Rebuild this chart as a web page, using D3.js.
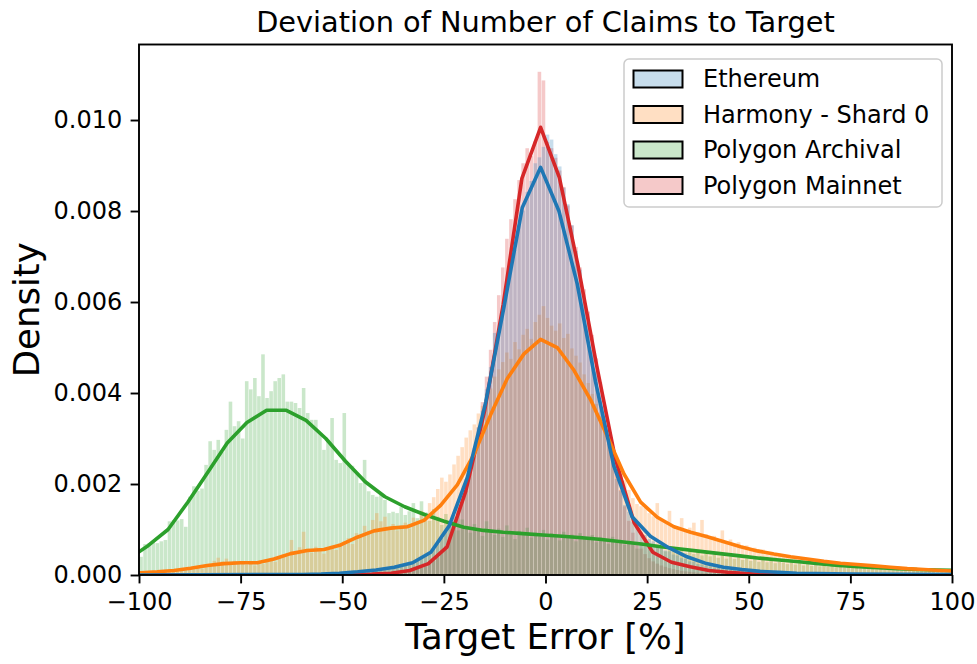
<!DOCTYPE html>
<html>
<head>
<meta charset="utf-8">
<script src="https://cdn.jsdelivr.net/npm/d3@7"></script>
<style>
  body { margin: 0; background: #fff; }
  svg { font-family: "DejaVu Sans", sans-serif; }
</style>
</head>
<body>
<div id="app"></div>
<script>
// 分箱：从 -100 开始，每箱宽 1（单位 %）
const binStart = -100;
const binWidth = 1;

const seriesNames = ['Ethereum', 'Harmony - Shard 0', 'Polygon Archival', 'Polygon Mainnet'];
const seriesColors = ['#1f77b4', '#ff7f0e', '#2ca02c', '#d62728'];

// 直方图密度，每行 10 个箱，行首注释为该行第一个箱的左边界
const ethereumBins = [
  0, 0, 0, 0, 0, 0, 0, 0, 0, 0, // -100
  0, 0, 0, 0, 0, 0, 0, 0, 0, 0, // -90
  0, 0, 0, 0, 0, 0, 0, 0, 0, 0, // -80
  0, 0, 0, 0, 0, 0, 0, 0, 0, 0.00001, // -70
  0.00001, 0.00001, 0.00002, 0.00001, 0.00002, 0.00002, 0.00003, 0.00002, 0.00003, 0.00004, // -60
  0.00004, 0.00005, 0.00006, 0.00005, 0.00008, 0.00007, 0.00009, 0.00011, 0.00010, 0.00013, // -50
  0.00015, 0.00014, 0.00018, 0.00021, 0.00019, 0.00024, 0.00028, 0.00026, 0.00033, 0.00038, // -40
  0.00044, 0.00051, 0.00057, 0.00068, 0.00081, 0.00095, 0.00112, 0.00128, 0.00154, 0.00179, // -30
  0.00211, 0.00245, 0.00279, 0.00324, 0.00361, 0.00408, 0.00457, 0.00532, 0.00541, 0.00588, // -20
  0.00629, 0.00674, 0.00715, 0.00769, 0.00801, 0.00842, 0.00866, 0.00905, 0.00918, 0.00941, // -10
  0.00968, 0.00957, 0.00925, 0.00898, 0.00851, 0.00815, 0.00769, 0.00712, 0.00671, 0.00608, // 0
  0.00559, 0.00494, 0.00447, 0.00382, 0.00341, 0.00289, 0.00254, 0.00211, 0.00185, 0.00154, // 10
  0.00139, 0.00117, 0.00106, 0.00094, 0.00088, 0.00079, 0.00074, 0.00065, 0.00062, 0.00054, // 20
  0.00052, 0.00045, 0.00043, 0.00037, 0.00035, 0.00030, 0.00029, 0.00024, 0.00023, 0.00020, // 30
  0.00019, 0.00016, 0.00016, 0.00013, 0.00013, 0.00011, 0.00010, 0.00009, 0.00009, 0.00008, // 40
  0.00007, 0.00006, 0.00006, 0.00005, 0.00005, 0.00004, 0.00004, 0.00004, 0.00003, 0.00003, // 50
  0.00003, 0.00002, 0.00003, 0.00002, 0.00002, 0.00002, 0.00001, 0.00002, 0.00001, 0.00001, // 60
  0.00001, 0.00001, 0.00001, 0.00001, 0, 0.00001, 0, 0.00001, 0, 0, // 70
  0, 0, 0, 0, 0, 0, 0, 0, 0, 0, // 80
  0, 0, 0, 0, 0, 0, 0, 0, 0, 0 // 90
];

const harmonyBins = [
  0.00004, 0.00003, 0.00005, 0.00004, 0.00006, 0.00005, 0.00007, 0.00006, 0.00009, 0.00008, // -100
  0.00011, 0.00010, 0.00013, 0.00012, 0.00016, 0.00014, 0.00019, 0.00024, 0.00031, 0.00038, // -90
  0.00030, 0.00036, 0.00027, 0.00031, 0.00025, 0.00029, 0.00022, 0.00026, 0.00021, 0.00028, // -80
  0.00024, 0.00030, 0.00033, 0.00029, 0.00038, 0.00045, 0.00041, 0.00077, 0.00052, 0.00061, // -70
  0.00095, 0.00058, 0.00049, 0.00062, 0.00053, 0.00047, 0.00058, 0.00064, 0.00055, 0.00069, // -60
  0.00074, 0.00081, 0.00068, 0.00092, 0.00085, 0.00108, 0.00097, 0.00121, 0.00136, 0.00118, // -50
  0.00128, 0.00105, 0.00112, 0.00098, 0.00109, 0.00115, 0.00102, 0.00126, 0.00119, 0.00141, // -40
  0.00132, 0.00158, 0.00171, 0.00189, 0.00214, 0.00205, 0.00221, 0.00243, 0.00262, 0.00281, // -30
  0.00302, 0.00318, 0.00331, 0.00355, 0.00372, 0.00398, 0.00410, 0.00436, 0.00452, 0.00468, // -20
  0.00489, 0.00475, 0.00512, 0.00496, 0.00528, 0.00541, 0.00519, 0.00556, 0.00572, 0.00591, // -10
  0.00565, 0.00548, 0.00537, 0.00553, 0.00521, 0.00530, 0.00498, 0.00482, 0.00467, 0.00441, // 0
  0.00422, 0.00398, 0.00376, 0.00349, 0.00327, 0.00301, 0.00278, 0.00252, 0.00231, 0.00208, // 10
  0.00187, 0.00169, 0.00156, 0.00151, 0.00148, 0.00136, 0.00129, 0.00158, 0.00121, 0.00117, // 20
  0.00141, 0.00108, 0.00102, 0.00125, 0.00096, 0.00104, 0.00115, 0.00094, 0.00121, 0.00090, // 30
  0.00082, 0.00086, 0.00075, 0.00098, 0.00071, 0.00078, 0.00066, 0.00072, 0.00061, 0.00065, // 40
  0.00057, 0.00060, 0.00052, 0.00056, 0.00048, 0.00051, 0.00045, 0.00047, 0.00041, 0.00043, // 50
  0.00038, 0.00040, 0.00035, 0.00037, 0.00033, 0.00034, 0.00030, 0.00032, 0.00028, 0.00029, // 60
  0.00026, 0.00027, 0.00024, 0.00025, 0.00022, 0.00023, 0.00021, 0.00020, 0.00019, 0.00018, // 70
  0.00017, 0.00016, 0.00015, 0.00014, 0.00013, 0.00013, 0.00012, 0.00011, 0.00011, 0.00010, // 80
  0.00009, 0.00009, 0.00008, 0.00008, 0.00007, 0.00007, 0.00006, 0.00006, 0.00005, 0.00005 // 90
];

const archivalBins = [
  0.00040, 0.00068, 0.00070, 0.00072, 0.00070, 0.00074, 0.00077, 0.00118, 0.00121, 0.00120, // -100
  0.00123, 0.00106, 0.00172, 0.00195, 0.00185, 0.00190, 0.00242, 0.00294, 0.00275, 0.00297, // -90
  0.00270, 0.00319, 0.00381, 0.00327, 0.00338, 0.00300, 0.00426, 0.00408, 0.00433, 0.00393, // -80
  0.00485, 0.00389, 0.00404, 0.00426, 0.00433, 0.00441, 0.00381, 0.00381, 0.00378, 0.00367, // -70
  0.00411, 0.00356, 0.00341, 0.00341, 0.00312, 0.00275, 0.00297, 0.00345, 0.00253, 0.00246, // -60
  0.00356, 0.00246, 0.00240, 0.00224, 0.00202, 0.00253, 0.00184, 0.00176, 0.00172, 0.00176, // -50
  0.00165, 0.00136, 0.00139, 0.00136, 0.00150, 0.00132, 0.00140, 0.00158, 0.00125, 0.00162, // -40
  0.00138, 0.00119, 0.00145, 0.00128, 0.00110, 0.00134, 0.00112, 0.00118, 0.00098, 0.00122, // -30
  0.00105, 0.00093, 0.00112, 0.00099, 0.00086, 0.00118, 0.00095, 0.00088, 0.00102, 0.00084, // -20
  0.00109, 0.00091, 0.00079, 0.00097, 0.00088, 0.00104, 0.00082, 0.00093, 0.00085, 0.00099, // -10
  0.00078, 0.00092, 0.00087, 0.00076, 0.00095, 0.00083, 0.00089, 0.00074, 0.00092, 0.00081, // 0
  0.00077, 0.00088, 0.00072, 0.00083, 0.00079, 0.00068, 0.00084, 0.00071, 0.00077, 0.00066, // 10
  0.00074, 0.00069, 0.00058, 0.00072, 0.00063, 0.00067, 0.00055, 0.00064, 0.00059, 0.00052, // 20
  0.00061, 0.00054, 0.00049, 0.00057, 0.00048, 0.00053, 0.00046, 0.00051, 0.00043, 0.00047, // 30
  0.00041, 0.00045, 0.00038, 0.00043, 0.00036, 0.00041, 0.00035, 0.00039, 0.00033, 0.00036, // 40
  0.00031, 0.00035, 0.00029, 0.00033, 0.00028, 0.00031, 0.00026, 0.00029, 0.00027, 0.00024, // 50
  0.00028, 0.00023, 0.00026, 0.00021, 0.00024, 0.00020, 0.00023, 0.00019, 0.00021, 0.00018, // 60
  0.00020, 0.00017, 0.00019, 0.00016, 0.00018, 0.00015, 0.00017, 0.00014, 0.00016, 0.00013, // 70
  0.00015, 0.00012, 0.00014, 0.00011, 0.00013, 0.00011, 0.00012, 0.00010, 0.00011, 0.00009, // 80
  0.00010, 0.00009, 0.00010, 0.00008, 0.00009, 0.00008, 0.00009, 0.00007, 0.00008, 0.00007 // 90
];

const mainnetBins = [
  0, 0, 0, 0, 0, 0, 0, 0, 0, 0, // -100
  0, 0, 0, 0, 0, 0, 0, 0, 0, 0, // -90
  0, 0, 0, 0, 0, 0, 0, 0, 0, 0, // -80
  0, 0, 0, 0, 0, 0, 0, 0, 0, 0, // -70
  0, 0, 0, 0, 0, 0, 0, 0, 0, 0, // -60
  0, 0, 0, 0, 0, 0.00001, 0.00001, 0.00002, 0.00002, 0.00002, // -50
  0.00003, 0.00003, 0.00004, 0.00005, 0.00006, 0.00007, 0.00009, 0.00011, 0.00013, 0.00016, // -40
  0.00019, 0.00024, 0.00031, 0.00039, 0.00050, 0.00064, 0.00083, 0.00108, 0.00139, 0.00165, // -30
  0.00185, 0.00225, 0.00272, 0.00325, 0.00380, 0.00436, 0.00495, 0.00556, 0.00615, 0.00676, // -20
  0.00739, 0.00782, 0.00826, 0.00868, 0.00905, 0.00938, 0.00921, 0.00954, 0.01106, 0.01087, // -10
  0.00952, 0.00938, 0.00917, 0.00889, 0.00853, 0.00812, 0.00768, 0.00721, 0.00676, 0.00628, // 0
  0.00579, 0.00528, 0.00476, 0.00424, 0.00371, 0.00322, 0.00275, 0.00229, 0.00187, 0.00151, // 10
  0.00119, 0.00093, 0.00073, 0.00058, 0.00046, 0.00037, 0.00030, 0.00025, 0.00021, 0.00018, // 20
  0.00015, 0.00013, 0.00011, 0.00009, 0.00008, 0.00007, 0.00006, 0.00005, 0.00004, 0.00004, // 30
  0.00003, 0.00003, 0.00002, 0.00002, 0.00002, 0.00001, 0.00001, 0.00001, 0.00001, 0.00001, // 40
  0, 0, 0, 0, 0, 0, 0, 0, 0, 0, // 50
  0, 0, 0, 0, 0, 0, 0, 0, 0, 0, // 60
  0, 0, 0, 0, 0, 0, 0, 0, 0, 0, // 70
  0, 0, 0, 0, 0, 0, 0, 0, 0, 0, // 80
  0, 0, 0, 0, 0, 0, 0, 0, 0, 0 // 90
];

// KDE 曲线（粗网格上的取值点）
const ethereumKdeX = [-104.7, -59.7, -55.2, -50.7, -46.2, -41.7, -37.2, -32.7, -28.2, -23.7, -19.2, -14.7, -10.2, -5.7, -1.2, 3.3, 7.8, 12.3, 16.8, 21.3, 25.8, 30.3, 34.8, 39.3, 43.8, 48.3, 52.8, 57.3, 61.8, 66.3, 75.3, 104.6];
const ethereumKdeY = [0, 0.00001, 0.00002, 0.00004, 0.00007, 0.00011, 0.00017, 0.00027, 0.00050, 0.00108, 0.00215, 0.00380, 0.00590, 0.00808, 0.00896, 0.00800, 0.00640, 0.00425, 0.00240, 0.00128, 0.00085, 0.00060, 0.00040, 0.00026, 0.00017, 0.00012, 0.00008, 0.00006, 0.00004, 0.00003, 0.00002, 0.00001];

const harmonyKdeX = [-103.7, -99.6, -95.5, -91.4, -87.3, -83.2, -79.1, -75.0, -70.9, -66.8, -62.7, -58.6, -54.5, -50.4, -46.3, -42.2, -38.1, -34.0, -29.9, -25.8, -21.7, -17.6, -13.5, -9.4, -5.3, -1.2, 2.9, 7.0, 11.1, 15.2, 19.3, 23.4, 27.5, 31.6, 35.7, 39.8, 43.9, 48.0, 52.1, 56.2, 60.3, 64.4, 68.5, 72.6, 76.7, 80.8, 84.9, 89.0, 93.1, 97.2, 101.3];
const harmonyKdeY = [0.00003, 0.00005, 0.00007, 0.00010, 0.00015, 0.00021, 0.00025, 0.00027, 0.00027, 0.00035, 0.00047, 0.00054, 0.00056, 0.00066, 0.00083, 0.00097, 0.00103, 0.00106, 0.00120, 0.00153, 0.00198, 0.00265, 0.00352, 0.00432, 0.00486, 0.00518, 0.00500, 0.00450, 0.00385, 0.00305, 0.00222, 0.00160, 0.00127, 0.00106, 0.00094, 0.00084, 0.00073, 0.00062, 0.00053, 0.00046, 0.00040, 0.00035, 0.00030, 0.00026, 0.00023, 0.00020, 0.00017, 0.00014, 0.00012, 0.00010, 0.00008];

const archivalKdeX = [-102.55, -97.7, -92.85, -88.0, -83.15, -78.3, -73.45, -68.6, -63.75, -58.9, -54.05, -49.2, -44.35, -39.5, -34.65, -29.8, -24.95, -20.1, -15.25, -10.4, -5.55, -0.7, 4.15, 9.0, 13.85, 18.7, 23.55, 28.4, 33.25, 38.1, 42.95, 47.8, 52.65, 57.5, 62.35, 67.2, 72.05, 76.9, 81.75, 86.6, 91.45, 96.3, 101.15];
const archivalKdeY = [0.00035, 0.00065, 0.00100, 0.00160, 0.00225, 0.00290, 0.00335, 0.00362, 0.00362, 0.00340, 0.00300, 0.00250, 0.00205, 0.00172, 0.00150, 0.00133, 0.00118, 0.00105, 0.00098, 0.00094, 0.00091, 0.00088, 0.00085, 0.00082, 0.00078, 0.00073, 0.00068, 0.00062, 0.00057, 0.00052, 0.00047, 0.00042, 0.00037, 0.00033, 0.00029, 0.00025, 0.00021, 0.00018, 0.00016, 0.00014, 0.00012, 0.00011, 0.00010];

const mainnetKdeX = [-104.6, -47.2, -42.6, -38.0, -33.4, -28.8, -24.2, -19.6, -15.0, -10.4, -5.8, -1.2, 3.4, 8.0, 12.6, 17.2, 21.8, 26.4, 31.0, 35.6, 40.2, 44.8, 49.4, 54.0, 104.8];
const mainnetKdeY = [0, 0.00001, 0.00002, 0.00004, 0.00010, 0.00025, 0.00062, 0.00185, 0.00360, 0.00595, 0.00872, 0.00984, 0.00874, 0.00680, 0.00460, 0.00255, 0.00115, 0.00050, 0.00028, 0.00018, 0.00010, 0.00006, 0.00003, 0.00001, 0];

// 坐标轴刻度
const xTicks = [-100, -75, -50, -25, 0, 25, 50, 75, 100];
const yTicks = [0, 0.002, 0.004, 0.006, 0.008, 0.010];
const xDomain = [-100, 100];
const yDomain = [0, 0.01166];

const binsList = [ethereumBins, harmonyBins, archivalBins, mainnetBins];
const kdeXList = [ethereumKdeX, harmonyKdeX, archivalKdeX, mainnetKdeX];
const kdeYList = [ethereumKdeY, harmonyKdeY, archivalKdeY, mainnetKdeY];

// 画布尺寸
const width = 977;
const height = 664;
const padding = { left: 139, right: 25, top: 44.5, bottom: 89 };
const chartWidth = width - padding.left - padding.right;
const chartHeight = height - padding.top - padding.bottom;

let svg = d3.select('#app').append('svg')
    .attr('width', width)
    .attr('height', height);

svg.append('defs').append('clipPath')
    .attr('id', 'plot-clip')
    .append('rect')
    .attr('width', chartWidth)
    .attr('height', chartHeight);

let chart = svg.append('g')
    .attr('transform', `translate(${padding.left}, ${padding.top})`);

// 比例尺
let xScale = d3.scaleLinear().domain(xDomain).range([0, chartWidth]);
let yScale = d3.scaleLinear().domain(yDomain).range([chartHeight, 0]);

let plot = chart.append('g').attr('clip-path', 'url(#plot-clip)');

// 直方图：后面的系列先画，Ethereum 在最上层
const order = [3, 2, 1, 0];
order.forEach((k) => {
    plot.append('g')
        .selectAll('rect')
        .data(binsList[k])
        .enter()
        .append('rect')
        .attr('x', (d, i) => xScale(binStart + i * binWidth) + 0.25)
        .attr('y', (d) => yScale(d))
        .attr('width', (d, i) => xScale(binStart + (i + 1) * binWidth) - xScale(binStart + i * binWidth) - 0.5)
        .attr('height', (d) => chartHeight - yScale(d))
        .attr('fill', seriesColors[k])
        .attr('fill-opacity', 0.25);
});

// KDE 曲线
order.forEach((k) => {
    let line = d3.line()
        .x((d, j) => xScale(kdeXList[k][j]))
        .y((d) => yScale(d));
    plot.append('path')
        .datum(kdeYList[k])
        .attr('d', line)
        .attr('fill', 'none')
        .attr('stroke', seriesColors[k])
        .attr('stroke-width', 3.6)
        .attr('stroke-linejoin', 'round');
});

// 坐标轴
let xAxis = d3.axisBottom(xScale).tickValues(xTicks).tickSize(8.4).tickPadding(9.5);
let gx = chart.append('g')
    .attr('transform', `translate(0, ${chartHeight})`)
    .call(xAxis);

let yAxis = d3.axisLeft(yScale).tickValues(yTicks).tickSize(8.4).tickPadding(8.4).tickFormat(d3.format('.3f'));
let gy = chart.append('g').call(yAxis);

[gx, gy].forEach((g) => {
    g.select('.domain').remove();
    g.selectAll('line').attr('stroke', '#000').attr('stroke-width', 1.9);
    g.selectAll('text')
        .attr('fill', '#000')
        .style('font-family', '"DejaVu Sans", sans-serif')
        .style('font-size', '24px');
});

// 边框
chart.append('rect')
    .attr('width', chartWidth)
    .attr('height', chartHeight)
    .attr('fill', 'none')
    .attr('stroke', '#000')
    .attr('stroke-width', 1.9);

// 标题和轴标签
svg.append('text')
    .attr('x', padding.left + chartWidth / 2)
    .attr('y', 32)
    .attr('text-anchor', 'middle')
    .style('font-size', '28.8px')
    .text('Deviation of Number of Claims to Target');

svg.append('text')
    .attr('x', padding.left + chartWidth / 2)
    .attr('y', 649)
    .attr('text-anchor', 'middle')
    .style('font-size', '35.5px')
    .text('Target Error [%]');

svg.append('text')
    .attr('transform', `translate(39, ${padding.top + chartHeight / 2}) rotate(-90)`)
    .attr('text-anchor', 'middle')
    .style('font-size', '35.5px')
    .text('Density');

// 图例
let legend = svg.append('g').attr('transform', 'translate(624, 59)');
legend.append('rect')
    .attr('width', 318)
    .attr('height', 148)
    .attr('rx', 5)
    .attr('fill', '#fff')
    .attr('fill-opacity', 0.8)
    .attr('stroke', '#cccccc')
    .attr('stroke-width', 1.5);

let items = legend.selectAll('.item')
    .data(seriesNames)
    .enter()
    .append('g')
    .attr('class', 'item')
    .attr('transform', (d, i) => `translate(0, ${20 + i * 35.5})`);

items.append('rect')
    .attr('x', 9.5)
    .attr('y', -8.5)
    .attr('width', 49)
    .attr('height', 17)
    .attr('fill', (d, i) => seriesColors[i])
    .attr('fill-opacity', 0.25)
    .attr('stroke', '#000')
    .attr('stroke-width', 2);

items.append('text')
    .attr('x', 79)
    .attr('dy', '0.34em')
    .style('font-size', '24px')
    .text((d) => d);
</script>
</body>
</html>
